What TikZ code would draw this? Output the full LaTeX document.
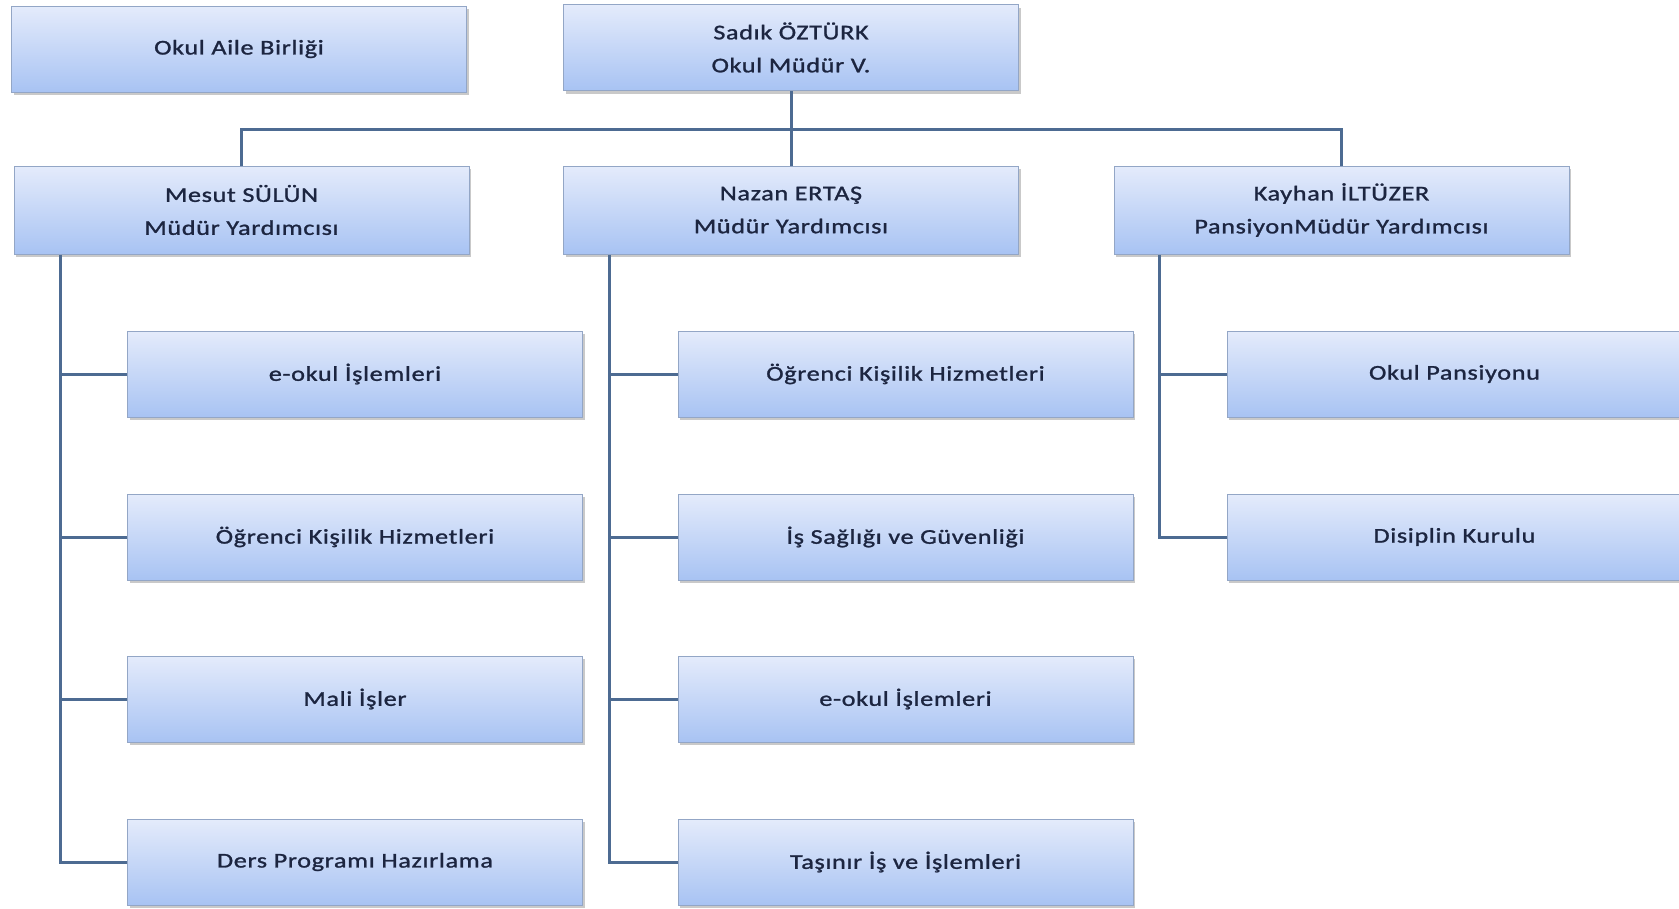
\documentclass[tikz,border=0pt]{standalone}
\usepackage{fontspec}
\setmainfont{Carlito}
\newfontfamily\boxfont[LetterSpace=3, FakeStretch=1.25, FakeBold=1.2]{Carlito}
\usetikzlibrary{shadows}
\definecolor{linec}{HTML}{4D6B92}
\definecolor{boxtop}{HTML}{E4EBFB}
\definecolor{boxbot}{HTML}{A8C3F3}
\definecolor{boxedge}{HTML}{93A6C6}
\definecolor{txt}{HTML}{1C2540}
\tikzset{
  orgbox/.style={draw=boxedge, line width=1pt, top color=boxtop, bottom color=boxbot,
    minimum width=455pt, minimum height=86pt, inner sep=0pt, align=center,
    font=\boxfont\fontsize{21}{33}\selectfont, text=txt,
    drop shadow={shadow xshift=2pt, shadow yshift=-3pt, opacity=0.35, fill=black!60}},
  conn/.style={draw=linec, line width=3pt}
}
\begin{document}
\begin{tikzpicture}[x=1pt,y=1pt]
\useasboundingbox (0,0) rectangle (1679,-908);
\fill[white] (0,0) rectangle (1679,-908);
% top level
\node[orgbox] (aile) at (239,-49) {Okul Aile Birliği};
\node[orgbox] (mudur) at (791,-47.5) {Sadık ÖZTÜRK\\Okul Müdür V.};
% level 2
\node[orgbox, minimum height=88pt] (mesut) at (241.5,-210) {Mesut SÜLÜN\\Müdür Yardımcısı};
\node[orgbox, minimum height=88pt] (nazan) at (791,-210) {Nazan ERTAŞ\\Müdür Yardımcısı};
\node[orgbox, minimum height=88pt] (kayhan) at (1341.5,-210) {Kayhan İLTÜZER\\PansiyonMüdür Yardımcısı};
% level 3 left
\node[orgbox] (l1) at (355,-374) {e-okul İşlemleri};
\node[orgbox] (l2) at (355,-537) {Öğrenci Kişilik Hizmetleri};
\node[orgbox] (l3) at (355,-699) {Mali İşler};
\node[orgbox] (l4) at (355,-862) {Ders Programı Hazırlama};
% level 3 middle
\node[orgbox] (m1) at (905.5,-374) {Öğrenci Kişilik Hizmetleri};
\node[orgbox] (m2) at (905.5,-537) {İş Sağlığı ve Güvenliği};
\node[orgbox] (m3) at (905.5,-699) {e-okul İşlemleri};
\node[orgbox] (m4) at (905.5,-862) {Taşınır İş ve İşlemleri};
% level 3 right
\node[orgbox] (r1) at (1454.5,-374) {Okul Pansiyonu};
\node[orgbox] (r2) at (1454.5,-537) {Disiplin Kurulu};
% connectors
\coordinate (bar) at (0,-129);
\coordinate (sL) at (60,0);
\coordinate (sM) at (609,0);
\coordinate (sR) at (1159,0);
\draw[conn] (mudur.south) -- (nazan.north);
\draw[conn] (mesut.north) |- (bar -| kayhan.north) -- (kayhan.north);
\draw[conn] (mesut.south -| sL) |- (l4.west);
\draw[conn] (sL |- l1.west) -- (l1.west);
\draw[conn] (sL |- l2.west) -- (l2.west);
\draw[conn] (sL |- l3.west) -- (l3.west);
\draw[conn] (nazan.south -| sM) |- (m4.west);
\draw[conn] (sM |- m1.west) -- (m1.west);
\draw[conn] (sM |- m2.west) -- (m2.west);
\draw[conn] (sM |- m3.west) -- (m3.west);
\draw[conn] (kayhan.south -| sR) |- (r2.west);
\draw[conn] (sR |- r1.west) -- (r1.west);
\end{tikzpicture}
\end{document}
